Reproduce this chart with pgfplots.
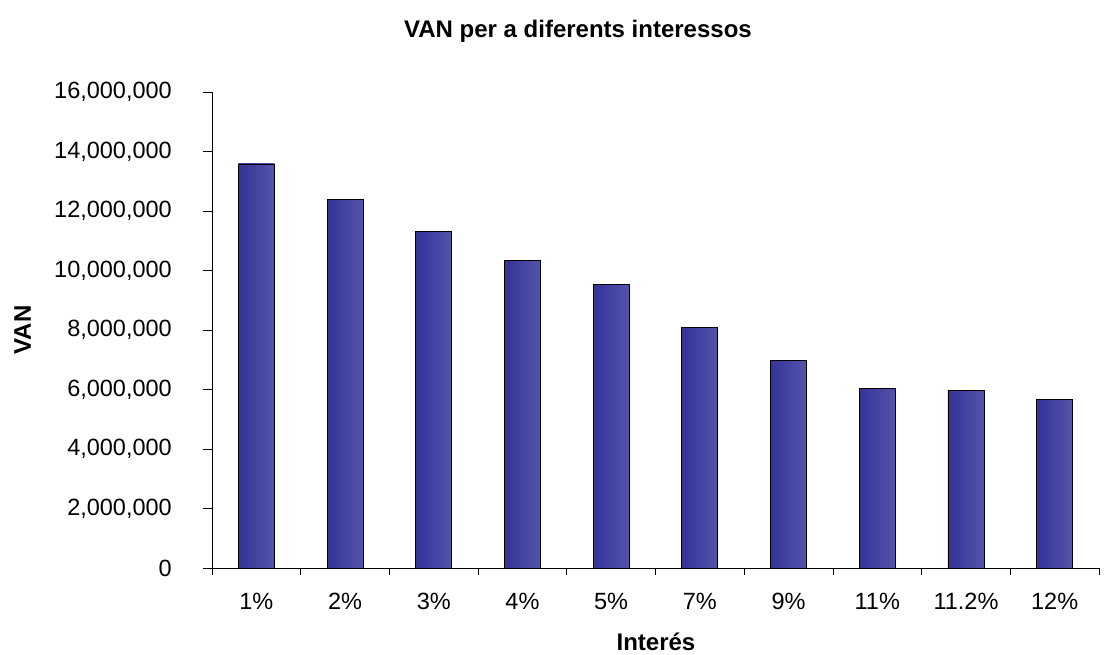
\documentclass[border=0pt]{standalone}
\usepackage{fontspec}
\setmainfont{Liberation Sans}
\usepackage{pgfplots}
\pgfplotsset{compat=1.18}
\definecolor{barL}{HTML}{333399}
\definecolor{barR}{HTML}{5454AA}
\tikzset{mybar/.style={draw=black, line width=0.9bp, left color=barL, right color=barR}}
\begin{document}
\begin{tikzpicture}
\useasboundingbox (0,0) rectangle (1104bp,655bp);
\begin{axis}[
  at={(212bp,87bp)}, anchor=south west,
  scale only axis, width=887bp, height=476bp,
  xmin=-0.5, xmax=9.5, ymin=0, ymax=16000000,
  axis x line*=bottom, axis y line*=left,
  axis line style={line width=0.9bp, black},
  every tick/.style={black, line width=0.8bp},
  tick align=outside,
  major tick length=9bp, minor tick length=7bp,
  ytick={0,2000000,4000000,6000000,8000000,10000000,12000000,14000000,16000000},
  scaled y ticks=false,
  /pgf/number format/.cd, fixed, precision=0, 1000 sep={,}, assume math mode=true, /pgfplots/.cd,
  xtick={0,1,2,3,4,5,6,7,8,9},
  xticklabels={1\%,2\%,3\%,4\%,5\%,7\%,9\%,11\%,11.2\%,12\%},
  major x tick style={draw=none},
  minor xtick={-0.5,0.5,1.5,2.5,3.5,4.5,5.5,6.5,7.5,8.5,9.5},
  tick label style={font=\fontsize{23.5bp}{28bp}\selectfont, inner sep=0pt},
  yticklabel style={anchor=east, xshift=-31bp},
  xticklabel style={anchor=north, yshift=-16bp},
  title={VAN per a diferents interessos},
  title style={font=\fontsize{24bp}{28bp}\selectfont\bfseries, at={(axis description cs:0.4126,1)}, anchor=base, yshift=49bp, inner sep=0pt},
  xlabel={Interés},
  xlabel style={font=\fontsize{24bp}{28bp}\selectfont\bfseries, at={(axis description cs:0.5005,-0.1737)}, anchor=base, inner sep=0pt},
  ylabel={VAN},
  ylabel style={font=\fontsize{24bp}{28bp}\selectfont\bfseries, at={(axis description cs:-0.2041,0.5)}, anchor=base, inner sep=0pt},
  ybar, bar width=36bp, bar shift=0pt,
]
\addplot[mybar] coordinates {(0,13580000)};
\addplot[mybar] coordinates {(1,12380000)};
\addplot[mybar] coordinates {(2,11300000)};
\addplot[mybar] coordinates {(3,10350000)};
\addplot[mybar] coordinates {(4,9520000)};
\addplot[mybar] coordinates {(5,8100000)};
\addplot[mybar] coordinates {(6,6960000)};
\addplot[mybar] coordinates {(7,6050000)};
\addplot[mybar] coordinates {(8,5960000)};
\addplot[mybar] coordinates {(9,5650000)};
\end{axis}
\end{tikzpicture}
\end{document}
